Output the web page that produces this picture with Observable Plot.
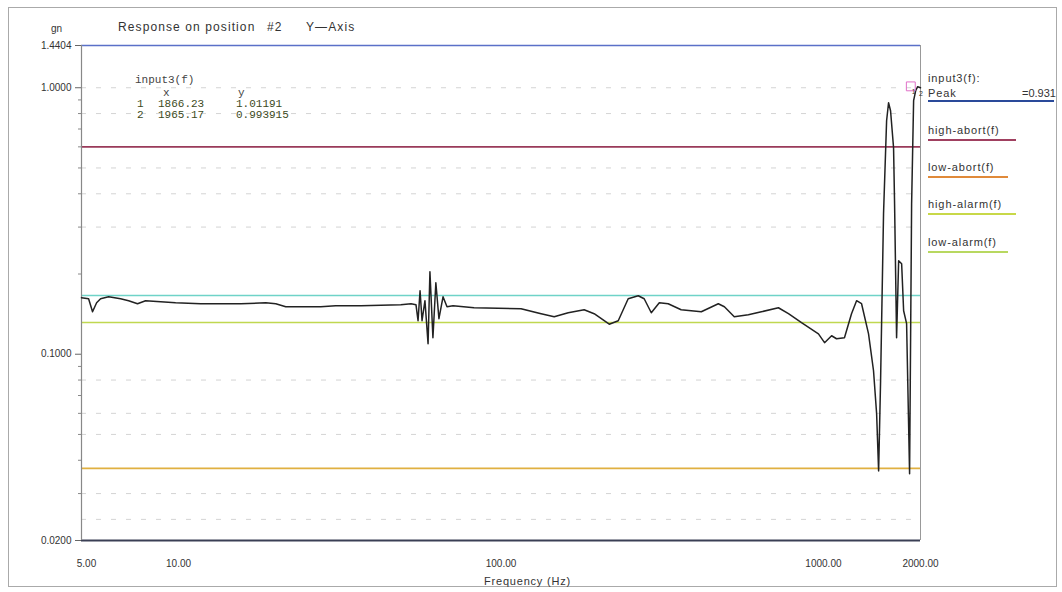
<!DOCTYPE html>
<html>
<head>
<meta charset="utf-8">
<script src="https://cdn.jsdelivr.net/npm/d3@7"></script>
<script src="https://cdn.jsdelivr.net/npm/@observablehq/plot@0.6"></script>
<style>
  html, body { margin: 0; padding: 0; background: #fff; }
  #wrap { position: relative; width: 1062px; height: 592px; overflow: hidden; font-family: "Liberation Sans", Arial, sans-serif; color: #333; }
  #wrap svg { position: absolute; left: 0; top: 0; }
  .abs { position: absolute; white-space: pre; }
  .mono { font-family: "Liberation Mono", "DejaVu Sans Mono", monospace; font-size: 11px; color: #444; }
  .leg { font-size: 11px; color: #333; letter-spacing: 0.9px; }
  .ul { position: absolute; height: 0; border-top: 2px solid; }
</style>
</head>
<body>
<div id="wrap"></div>
<script>
// ---- data ----
const freq = [5.0, 5.26, 5.41, 5.57, 5.73, 6.07, 6.61, 7.0, 7.46, 7.9, 8.8, 9.79, 11.71, 15.59, 18.64, 20.02, 21.5, 27.6, 30.7, 36.8, 48.9, 52.6,
  54.5, 55.3, 56.1, 56.9, 58.1, 59.4, 60.2, 61.5, 62.8, 64.2, 66.1, 68.0, 71.0,
  82.5, 115.4, 133.2, 146.2, 161.6, 181.1, 194.5, 216.6, 231, 248, 266.5, 278, 292.5, 309.7, 330, 362, 418, 472, 493, 529, 585, 642, 725, 779, 855,
  965, 1008, 1060, 1098, 1162, 1222, 1267, 1313, 1380, 1430, 1462, 1483, 1504, 1536, 1570, 1592, 1615, 1650, 1662, 1686,
  1711, 1748, 1773, 1811, 1850, 1877, 1904, 1932, 1960, 2000];
const amp = [0.163, 0.1615, 0.1443, 0.156, 0.1615, 0.1643, 0.1615, 0.1588, 0.1547, 0.1588, 0.1574, 0.156, 0.1547, 0.1547, 0.156, 0.1547, 0.1507, 0.1507, 0.152, 0.152, 0.1533, 0.1547,
  0.1533, 0.1336, 0.173, 0.1336, 0.1588, 0.1095, 0.204, 0.1153, 0.1855, 0.1359, 0.1643, 0.1507, 0.152,
  0.1494, 0.1482, 0.1419, 0.1382, 0.1431, 0.1469, 0.1419, 0.1296, 0.1336, 0.1615, 0.1658, 0.1615, 0.1431, 0.156, 0.1547, 0.1469, 0.1443, 0.1547, 0.1507, 0.1382, 0.1406, 0.1443, 0.1494, 0.1419, 0.1313,
  0.1193, 0.1105, 0.1173, 0.1143, 0.1153, 0.1419, 0.1588, 0.1547, 0.1193, 0.0867, 0.0598, 0.0365, 0.0796, 0.3367, 0.752, 0.878, 0.82, 0.5955, 0.367, 0.1153,
  0.2243, 0.2186, 0.1456, 0.1302, 0.0356, 0.367, 0.894, 0.974, 1.009, 1.0];

const limitNames  = ["high-abort(f)", "low-abort(f)", "high-alarm(f)", "low-alarm(f)"];
const limitValues = [0.6, 0.0373, 0.166, 0.1316];
const limitColors = ["#9a3a5a", "#e0b040", "#6fd3c8", "#c0d850"];
const legendUnderline = ["#a04060", "#e08a3a", "#c8d848", "#b8d860"];

const gridValues = [1.0, 0.8, 0.5, 0.4, 0.3, 0.08, 0.06, 0.05, 0.03, 0.024];
const yTicks = [1.4404, 1.0, 0.1, 0.02];
const yMinor = [0.9, 0.8, 0.7, 0.6, 0.5, 0.4, 0.3, 0.2, 0.09, 0.08, 0.07, 0.06, 0.05, 0.04, 0.03];
const xTicks = [5, 10, 100, 1000, 2000];

const cursorIds = ["1", "2"];
const cursorX = [1866.23, 1965.17];
const cursorY = [1.01191, 0.993915];
const peakValue = "=0.931";

const curve = freq.map((f, i) => ({f, v: amp[i]}));
const cursors = cursorX.map((x, i) => ({id: cursorIds[i], x, y: cursorY[i]}));
const limits = limitValues.map((v, i) => ({name: limitNames[i], v, c: limitColors[i]}));
const yBottom = yTicks[yTicks.length - 1];
const xLabels = xTicks.map(t => ({t, y: yBottom, s: t.toFixed(2)}));

const chart = Plot.plot({
  width: 1062, height: 592,
  marginLeft: 81, marginRight: 142, marginTop: 45, marginBottom: 52,
  x: {type: "log", domain: [5, 2000], axis: null},
  y: {type: "log", domain: [0.02, 1.4404]},
  style: {fontFamily: "Liberation Sans, Arial, sans-serif", fontSize: "10px", color: "#333", background: "transparent"},
  marks: [
    Plot.ruleY(gridValues, {stroke: "#aaa", strokeOpacity: 0.5, strokeDasharray: "5,10"}),
    Plot.ruleY(limits, {y: "v", stroke: "c", strokeWidth: 1.6}),
    Plot.ruleY([1.4404], {stroke: "#5a70c8", strokeWidth: 1.6}),
    Plot.ruleY([0.02], {stroke: "#3a3f55", strokeWidth: 2.2}),
    Plot.ruleX([5], {stroke: "#888", strokeWidth: 1.2}),
    Plot.ruleX([2000], {stroke: "#999", strokeWidth: 1}),
    Plot.axisY(yMinor, {tickSize: 3, tickFormat: () => "", stroke: "#888"}),
    Plot.axisY(yTicks, {tickSize: 6, tickPadding: 4, tickFormat: d => d.toFixed(4), label: null, fontSize: 10, stroke: "#666"}),
    Plot.text(xLabels.slice(0, 1), {x: "t", y: "y", text: "s", dy: 23, dx: 5, fontSize: 10, fill: "#333"}),
    Plot.text(xLabels.slice(1), {x: "t", y: "y", text: "s", dy: 23, fontSize: 10, fill: "#333"}),
    Plot.line(curve, {x: "f", y: "v", stroke: "#222", strokeWidth: 1.5, curve: "linear"}),
    Plot.dot(cursors.slice(0, 1), {x: "x", y: "y", symbol: "square", r: 5, stroke: "#e070c8", strokeWidth: 1}),
    Plot.text(cursors, {x: "x", y: "y", text: "id", dx: 3, dy: 5, fontSize: 7, fill: "#333"})
  ]
});

const wrap = document.getElementById("wrap");
wrap.appendChild(chart);

function addText(txt, x, y, cls, extra) {
  const d = document.createElement("div");
  d.className = "abs " + (cls || "");
  d.textContent = txt;
  d.style.left = x + "px"; d.style.top = y + "px";
  if (extra) Object.assign(d.style, extra);
  wrap.appendChild(d);
  return d;
}
// outer window frame
const fr = document.createElement("div");
Object.assign(fr.style, {position: "absolute", left: "8px", top: "7px", width: "1049px", height: "580px", border: "1px solid #aaa", boxSizing: "border-box"});
wrap.appendChild(fr);

const titleStyle = {fontSize: "12px", letterSpacing: "1.1px"};
addText("gn", 51, 23, "", {fontSize: "10px"});
addText("Response on position", 118, 20, "", titleStyle);
addText("#2", 267, 20, "", titleStyle);
addText("Y\u2014Axis", 306, 20, "", titleStyle);
addText("Frequency (Hz)", 484, 575, "", {fontSize: "11px", letterSpacing: "0.8px"});

// cursor readout
addText("input3(f)", 135, 74, "mono");
addText("x", 163, 87, "mono");
addText("y", 238, 87, "mono");
cursors.forEach((c, i) => {
  addText(c.id, 137, 98 + i * 11, "mono", {color: "#3c4a22"});
  addText(c.x.toFixed(2), 158, 98 + i * 11, "mono", {color: "#3c4a22"});
  addText(String(c.y), 236, 98 + i * 11, "mono", {color: "#3c4a22"});
});

// legend
addText("input3(f):", 928, 72, "leg");
addText("Peak", 928, 87, "leg");
addText(peakValue, 1022, 87, "leg", {letterSpacing: "0px"});
const ul0 = document.createElement("div"); ul0.className = "ul";
Object.assign(ul0.style, {left: "928px", top: "100px", width: "126px", borderTopColor: "#2a4a9a"});
wrap.appendChild(ul0);
const legY = [124, 161, 198, 236];
const legW = [88, 80, 88, 80];
limitNames.forEach((n, i) => {
  addText(n, 928, legY[i], "leg");
  const u = document.createElement("div"); u.className = "ul";
  Object.assign(u.style, {left: "928px", top: (legY[i] + 15) + "px", width: legW[i] + "px", borderTopColor: legendUnderline[i]});
  wrap.appendChild(u);
});
</script>
</body>
</html>
